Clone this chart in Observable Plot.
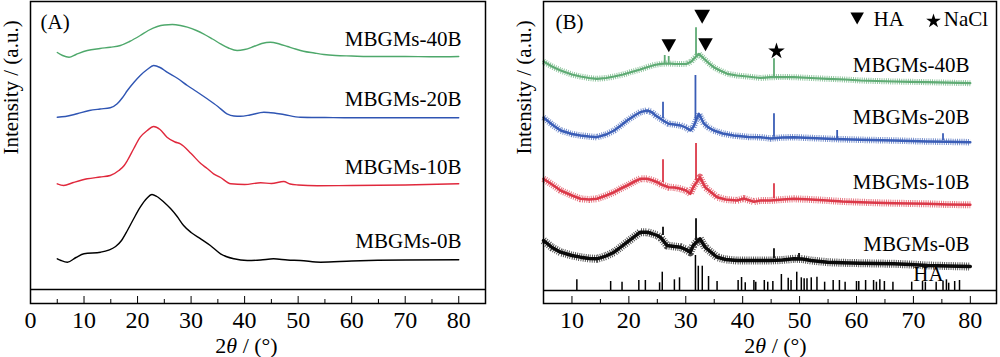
<!DOCTYPE html>
<html><head><meta charset="utf-8">
<script src="https://cdn.jsdelivr.net/npm/d3@7"></script>
<script src="https://cdn.jsdelivr.net/npm/@observablehq/plot@0.6"></script>
<style>
html,body{margin:0;padding:0;background:#fff;}
#fig{display:flex;width:1000px;height:357px;overflow:hidden;}
</style></head><body><div id="fig"></div>
<script>
// ---------- tick values ----------
const xTicksA = [0, 10, 20, 30, 40, 50, 60, 70, 80];
const xMinorA = [5, 15, 25, 35, 45, 55, 65, 75];
const xTicksB = [10, 20, 30, 40, 50, 60, 70, 80];
const xMinorB = [15, 25, 35, 45, 55, 65, 75];

// ---------- panel (A): [2theta, intensity a.u. (stacked)] ----------
const A_40B = [[5,251],[6,248],[7.2,246.3],[8.5,249],[10.6,253],[13,255],[14.9,256.3],[16.8,258],[18.5,262],[20.5,268],[22,273],[23.7,277],[25,278.5],[26.5,279],[28,278],[29.3,276.3],[31,273],[32.3,269.7],[34,264.5],[35.5,259.7],[37,255.5],[38.6,253],[40,254],[41.7,257],[43.2,260],[44.8,261.3],[46.5,259.5],[48,257],[49.5,254.5],[51,252.3],[53,250.5],[54.8,249],[57,248],[60,247.5],[63,247],[70,247],[75,246.7],[80,247]];
const A_20B = [[5,186.3],[6.5,187],[8.7,189.7],[11,193],[13,194.5],[14.9,195.7],[16.2,199.7],[17.2,206],[18.1,213],[19.3,221],[20.5,228],[21.8,234],[23,238],[24.2,236],[25.5,231.3],[27.5,225],[29.3,218],[31,212],[33,204.7],[35,197],[36.7,189.7],[38,187.5],[39.2,187.3],[41,188.5],[43.6,191.3],[45.5,190.5],[47.3,189],[50.4,186.3],[55,186],[60,185.7],[70,185.7],[80,185.7]];
const A_10B = [[5,119.7],[6.2,118],[8,121],[10.6,124.7],[13,126.5],[14.9,128],[16.5,133],[17.5,138],[18.1,143],[19.3,155],[20.5,166.3],[21.8,173],[23,177],[24.2,174],[25.5,166.3],[27,161.5],[28,159.7],[30,150],[31.8,140],[33,135],[34.2,129.7],[35.5,126],[37.4,119.7],[40,119],[43,120.7],[45,120],[47.3,122],[48.5,119.5],[50,118.5],[53.6,117.7],[60,118],[70,118.5],[80,119.7]];
const A_0B = [[5,44.7],[5.7,43],[6.9,41.3],[8.5,46],[10,49.7],[13.1,51.3],[15.9,57],[17,63],[18.1,73],[19.3,85],[20.5,96.3],[21.7,105],[22.7,109],[23.6,107],[25,101],[26.2,94.7],[27.4,87],[28.6,78],[30,71],[31.8,64.7],[33.6,58],[35.5,49.7],[38,44.7],[40.5,43],[43,43.5],[45.4,44.7],[48,43.5],[50.4,43],[54.2,41.3],[60,42.5],[70,43.5],[80,43.7]];

// ---------- panel (B): broad pattern [2theta, intensity] ----------
const B_40B = [[5,242],[6.5,237],[8,233],[10,229],[11.5,227],[13,225.5],[14.4,224.7],[16,225.5],[17.4,227],[19,229],[20.3,231.3],[22,234],[23.2,236.3],[24.5,238.5],[25.6,239.7],[27,240],[27.9,239.7],[29,239.5],[30.2,239.7],[31,242],[31.4,244.7],[32.3,249.7],[33.2,244.7],[34,240.5],[34.9,236.3],[36,233],[37.3,229.7],[39,228],[40.8,227],[43.1,225.5],[44.9,226.3],[47,226.5],[49,226.3],[52,225.5],[54.9,224.7],[58,224],[60.7,223],[63.5,222.5],[66.6,222],[69.5,221.7],[72.4,221.3],[76,220.8],[80,220.3]];
const B_20B = [[5,186],[6.5,179],[8,173],[10,169.5],[11.5,168],[13,167],[14.4,166.3],[16,169],[17.4,173],[18.6,178],[19.7,183],[21,188],[22,191.3],[23.2,193],[24,191.5],[24.7,188],[25.5,185],[26.3,182],[27,179.7],[28,179],[29.1,178],[30,176],[30.8,173],[31.3,176.3],[32.3,189.7],[33.2,179.7],[34,176],[34.9,173],[36.5,170],[38.4,168],[41,166.5],[43.1,166.3],[44.9,165],[47,166],[49,166.3],[52,165.5],[56,164.5],[60.7,163.7],[66.6,163],[72.4,162],[76,161.7],[80,161.3]];
const B_10B = [[5,124.7],[6.5,119],[8,113],[10,108],[11.5,104.7],[13,104],[14.4,104.7],[16,108],[17.4,111.3],[18.6,115],[19.7,118],[21,122],[22,124.7],[23.2,124.7],[24,123.5],[25,121.3],[25.7,119],[27,116.3],[28,116],[29.1,114.7],[30,113],[30.8,109.7],[31.3,116.3],[32.5,126.3],[33.4,116.3],[34.5,111],[35.5,106.3],[37,104],[39,103],[40.2,105],[41,103.5],[42,101.8],[43.1,103],[44.9,103],[47,104],[49,104.7],[52,104],[54.9,103],[57.5,102],[60.7,101.3],[63.5,100.7],[66.6,100.3],[69.5,100],[72.4,99.7],[76,99],[80,98.7]];
const B_0B = [[5,63],[6.5,56],[8,51.3],[10,48],[11.5,46.3],[13,45],[14.4,44.7],[16,47.5],[17.4,51.3],[18.6,56.5],[19.7,61.3],[21,67],[22,71.3],[23.2,71.3],[24,70],[25,68],[25.6,66],[26.7,58],[28,57],[29.1,56.3],[30,54],[30.8,51.3],[31.3,58],[32.5,64.7],[33.4,56.3],[34.5,51],[35.5,46.3],[37,44],[39,43],[42,43],[43.1,43],[44.9,43],[47,43.5],[49,44.7],[50.5,44.5],[52,43],[54.9,41.3],[57.5,40.7],[60.7,40.3],[63.5,40],[66.6,39.7],[69.5,39],[72.4,38],[76,37.5],[80,37]];

// sharp reflections: [2theta, base, top]
const P_40B = [[26.3,240,248],[27.0,240,247],[31.8,248,275.7],[45.5,225.7,244.7]];
const P_20B = [[26.0,185,201.3],[31.7,183,228],[45.5,166.3,189.7],[56.6,165,173],[75.2,163,169.7]];
const P_10B = [[26.0,121,143.7],[31.8,123,160],[45.5,104.7,119.7]];
const P_0B = [[26.0,68,76.3],[31.8,63,84.7],[45.5,45,54.7],[49.9,45,50]];

// HA standard pattern: [2theta, relative intensity]
const HA_ref = [[10.86,10.7],[16.8,9],[18.8,8.3],[21.75,10],[22.9,10],[25.4,7.7],[25.87,18.3],[28.0,10.7],[28.9,12.7],[31.7,35],[32.2,24.3],[32.9,24.3],[34.0,14],[35.5,9],[39.2,10],[39.8,13],[40.45,7.7],[41.97,10],[42.3,8.3],[43.8,10],[44.4,8.3],[45.3,9],[46.8,16],[48.0,12.3],[48.5,10],[49.5,18.3],[50.3,12.7],[50.8,11.7],[51.3,11.7],[52.05,12.7],[53.05,13.3],[54.4,8.3],[55.9,10],[57.0,10],[58.0,8.3],[60.0,9],[60.4,9],[61.6,10],[63.0,10],[63.5,8.3],[64.1,10.7],[64.9,9],[66.4,8.3],[69.7,8.3],[71.6,9],[72.1,8.3],[74.0,8.3],[75.2,9],[75.8,10.7],[76.2,7.3],[77.25,9],[78.1,10]];
const HA_base = 13;
const A_base = 14;

// series names and colours
const seriesNames = ["MBGMs-40B", "MBGMs-20B", "MBGMs-10B", "MBGMs-0B"];
const colorsA = ["#4ea86b", "#2f55b3", "#e0283c", "#000000"];
const colorsB = ["#5fab74", "#3a5db6", "#db3848", "#0a0a0a"];

// annotations (2theta, intensity)
const labelsA = [[80.52,258],[80.52,198],[80.52,130],[80.52,56]];
const labelsB = [[79.85,231.3],[79.85,180],[79.85,115],[79.85,53]];
const markHA = [[27.02,257.7],[33.47,258.7]];
const markHAtop = [[32.88,286.7]];
const markNaCl = [[45.94,252.3]];

const FONT = '"Liberation Serif", "Times New Roman", serif';
const axisTitle = "2θ / (°)";
const yTitle = "Intensity / (a.u.)";

const triangleDown = {
  draw(ctx, size) {
    const r = Math.sqrt(size / Math.PI);
    const w = r * 1.35, h = r * 1.2;
    ctx.moveTo(-w, -h); ctx.lineTo(w, -h); ctx.lineTo(0, h); ctx.closePath();
  }
};

function common(domain, marginLeft, marginRight) {
  return {
    width: 500, height: 357, marginLeft, marginRight, marginTop: 1, marginBottom: 54,
    x: {domain}, y: {domain: [0, 302], axis: null},
    style: {fontFamily: FONT, fontSize: "21px", background: "#fff", color: "#000", overflow: "visible"}
  };
}

const seriesA = [A_40B, A_20B, A_10B, A_0B];
const plotA = Plot.plot({
  ...common([0, 85], 30, 15),
  marks: [
    Plot.ruleY([A_base], {stroke: "#000", strokeWidth: 1.4}),
    ...seriesA.map((s, i) => Plot.line(s, {x: d => d[0], y: d => d[1], stroke: colorsA[i], strokeWidth: 1.4, curve: "monotone-x"})),
    Plot.text(labelsA, {x: d => d[0], y: d => d[1], text: (d, i) => seriesNames[i], textAnchor: "end", lineAnchor: "bottom", fontSize: 21}),
    Plot.text(["(A)"], {x: 1.87, y: 275, textAnchor: "start", lineAnchor: "bottom", fontSize: 21}),
    Plot.axisX(xTicksA, {tickSize: -7, tickPadding: 14, fontSize: 24, tickFormat: d => String(d)}),
    Plot.axisX(xMinorA, {tickSize: -4, tickFormat: () => ""}),
    Plot.text([yTitle], {frameAnchor: "left", rotate: -90, dx: -19, dy: 2, fontSize: 21}),
    Plot.text([axisTitle], {frameAnchor: "bottom", dy: 49, dx: -11.5, lineAnchor: "bottom", fontSize: 22}),
    Plot.frame({stroke: "#000", strokeWidth: 1.5})
  ]
});

const seriesB = [B_40B, B_20B, B_10B, B_0B];
const peaksB = [P_40B, P_20B, P_10B, P_0B];
const widthsB = [6, 6.5, 7, 8];
const coreB = [2.2, 2.4, 2.6, 3.4];
const plotB = Plot.plot({
  ...common([5, 84.6], 43, 4),
  marks: [
    Plot.ruleY([HA_base], {stroke: "#000", strokeWidth: 1.4}),
    Plot.ruleX(HA_ref, {x: d => d[0], y1: HA_base, y2: d => HA_base + d[1], stroke: "#000", strokeWidth: 1.5}),
    // fuzzy noise band (hatched) + core trace
    ...seriesB.map((s, i) => Plot.line(s, {x: d => d[0], y: d => d[1], stroke: colorsB[i], strokeWidth: widthsB[i], strokeDasharray: "0.9 1.3", strokeOpacity: 0.75, strokeLinecap: "butt"})),
    ...seriesB.map((s, i) => Plot.line(s, {x: d => d[0], y: d => d[1], stroke: colorsB[i], strokeWidth: coreB[i], strokeLinejoin: "round"})),
    ...peaksB.map((p, i) => Plot.ruleX(p, {x: d => d[0], y1: d => d[1], y2: d => d[2], stroke: colorsB[i], strokeWidth: 1.8})),
    Plot.text(labelsB, {x: d => d[0], y: d => d[1], text: (d, i) => seriesNames[i], textAnchor: "end", lineAnchor: "bottom", fontSize: 21}),
    Plot.text(["HA"], {x: 72.65, y: 23, textAnchor: "middle", lineAnchor: "bottom", fontSize: 21}),
    Plot.text(["(B)"], {x: 7.11, y: 275, textAnchor: "start", lineAnchor: "bottom", fontSize: 21}),
    Plot.dot(markHA, {x: d => d[0], y: d => d[1], symbol: triangleDown, r: 5.4, fill: "#000", stroke: "none"}),
    Plot.dot(markHAtop, {x: d => d[0], y: d => d[1], symbol: triangleDown, r: 5.8, fill: "#000", stroke: "none"}),
    Plot.dot(markNaCl, {x: d => d[0], y: d => d[1], symbol: "star", r: 5.2, fill: "#000", stroke: "none"}),
    // legend
    Plot.dot([[60.12, 284.9]], {x: d => d[0], y: d => d[1], symbol: triangleDown, r: 5.0, fill: "#000", stroke: "none"}),
    Plot.text([[62.99, 278, "HA"]], {x: d => d[0], y: d => d[1], text: d => d[2], textAnchor: "start", lineAnchor: "bottom", fontSize: 21}),
    Plot.dot([[73.53, 282.4]], {x: d => d[0], y: d => d[1], symbol: "star", r: 4.6, fill: "#000", stroke: "none"}),
    Plot.text([[75.34, 278, "NaCl"]], {x: d => d[0], y: d => d[1], text: d => d[2], textAnchor: "start", lineAnchor: "bottom", fontSize: 21}),
    Plot.axisX(xTicksB, {tickSize: -7, tickPadding: 14, fontSize: 24, tickFormat: d => String(d)}),
    Plot.axisX(xMinorB, {tickSize: -4, tickFormat: () => ""}),
    Plot.text([yTitle], {frameAnchor: "left", rotate: -90, dx: -19, dy: 2, fontSize: 21}),
    Plot.text([axisTitle], {frameAnchor: "bottom", dy: 49, dx: 5.5, lineAnchor: "bottom", fontSize: 22}),
    Plot.frame({stroke: "#000", strokeWidth: 1.5})
  ]
});

function italicTheta(svg) {
  svg.querySelectorAll("text").forEach(t => {
    if (t.textContent === axisTitle) {
      t.textContent = "";
      const ns = "http://www.w3.org/2000/svg";
      const a = document.createElementNS(ns, "tspan"); a.textContent = "2";
      const b = document.createElementNS(ns, "tspan"); b.textContent = "θ"; b.setAttribute("font-style", "italic");
      const c = document.createElementNS(ns, "tspan"); c.textContent = " / (°)";
      t.append(a, b, c);
    }
  });
}
italicTheta(plotA); italicTheta(plotB);
const fig = document.getElementById("fig");
fig.append(plotA, plotB);
</script></body></html>
